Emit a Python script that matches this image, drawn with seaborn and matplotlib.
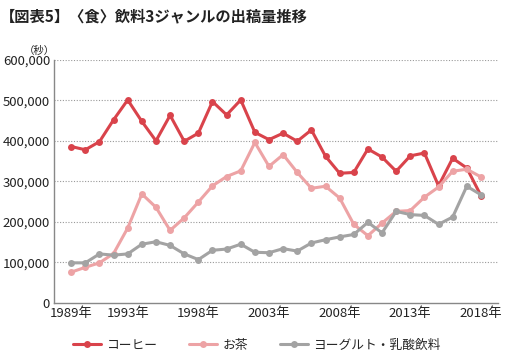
import numpy as np
import pandas as pd
import matplotlib
matplotlib.use("Agg")
import matplotlib.pyplot as plt
import seaborn as sns

# data (seconds of airtime per year)
years = list(range(1989, 2019))
coffee = [386000, 378000, 398000, 452000, 501000, 448000, 400000, 463000, 399000, 419000,
          497000, 464000, 501000, 421000, 403000, 419000, 399000, 427000, 362000, 320000,
          322000, 380000, 360000, 325000, 363000, 370000, 289000, 357000, 333000, 265000]
tea = [76000, 88000, 99000, 122000, 185000, 269000, 236000, 179000, 210000, 249000,
       289000, 312000, 326000, 396000, 337000, 366000, 322000, 283000, 288000, 259000,
       194000, 166000, 197000, 226000, 228000, 261000, 286000, 325000, 330000, 311000]
yogurt = [99000, 99000, 121000, 118000, 121000, 145000, 151000, 142000, 121000, 107000,
          130000, 133000, 145000, 125000, 124000, 134000, 128000, 148000, 156000, 163000,
          169000, 199000, 173000, 226000, 218000, 216000, 194000, 212000, 288000, 267000]
series_names = ["コーヒー", "お茶", "ヨーグルト・乳酸飲料"]
colors = ["#d9434b", "#eda3a5", "#a3a3a3"]
tick_years = [1989, 1993, 1998, 2003, 2008, 2013, 2018]
y_ticks = [0, 100000, 200000, 300000, 400000, 500000, 600000]

df = pd.DataFrame({
    "year": years * 3,
    "value": coffee + tea + yogurt,
    "series": [series_names[0]] * len(years) + [series_names[1]] * len(years) + [series_names[2]] * len(years),
})

sns.set_style("white")
plt.rcParams["font.family"] = ["Noto Sans CJK JP", "DejaVu Sans"]

fig = plt.figure(figsize=(5.07, 3.56), dpi=100)
ax = fig.add_axes([0.107, 0.149, 0.875, 0.683])

sns.lineplot(data=df, x="year", y="value", hue="series", hue_order=series_names,
             palette=colors, marker="o", markersize=5, markeredgewidth=0,
             linewidth=2.2, ax=ax)

ax.set_xlim(1987.8, 2019.2)
ax.set_ylim(0, 600000)
ax.set_xticks(tick_years)
ax.set_xticklabels([f"{y}年" for y in tick_years])
ax.set_yticks(y_ticks)
ax.set_yticklabels([f"{v:,}" for v in y_ticks])
ax.tick_params(axis="both", length=0, labelsize=9.5, colors="#222222", pad=3)
ax.set_xlabel("")
ax.set_ylabel("")

for y in y_ticks[1:]:
    ax.axhline(y, color="#999999", linestyle=(0, (1, 1.5)), linewidth=0.8, zorder=0)

for s in ["top", "right"]:
    ax.spines[s].set_visible(False)
for s in ["left", "bottom"]:
    ax.spines[s].set_color("#888888")
    ax.spines[s].set_linewidth(1.0)

ax.text(-0.034, 1.037, "（秒）", transform=ax.transAxes, ha="center", va="center",
        fontsize=7.5, color="#222222")

fig.text(0.0, 0.955, "【図表5】〈食〉飲料3ジャンルの出稿量推移", fontsize=11, fontweight="bold",
         ha="left", va="center", color="#222222")

ax.legend(loc="upper center", bbox_to_anchor=(0.457, -0.1), ncol=3, frameon=False,
          fontsize=9.2, handlelength=2.2, columnspacing=2.5, handletextpad=0.4)

fig.savefig("out.png", dpi=100)
